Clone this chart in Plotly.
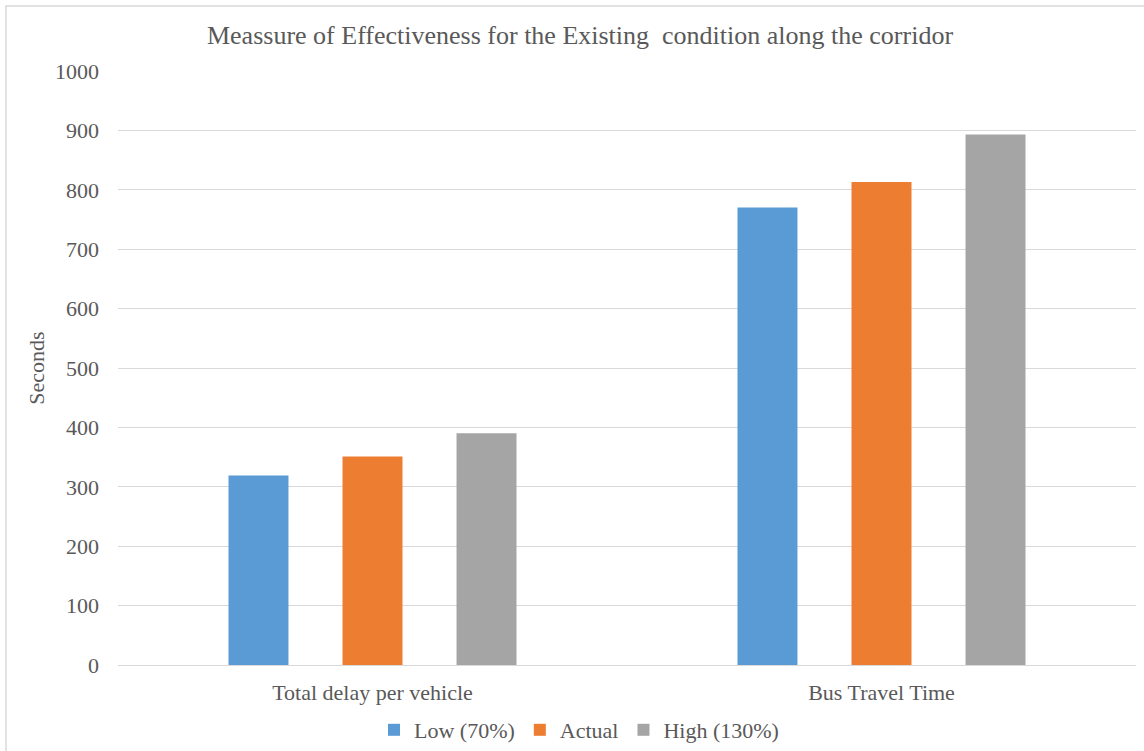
import plotly.graph_objects as go

categories = ["Total delay per vehicle", "Bus Travel Time"]
low_70 = [319, 770]
actual = [351, 813]
high_130 = [390, 893]

series_names = ["Low (70%)", "Actual", "High (130%)"]
series_colors = ["#5B9BD5", "#ED7D31", "#A5A5A5"]

W, H = 1144, 751
L, R, T, B = 118, 8, 71, 86
pw, ph = W - L - R, H - T - B

fig = go.Figure()
for name, vals, col in zip(series_names, [low_70, actual, high_130], series_colors):
    fig.add_trace(go.Bar(x=categories, y=vals, name=name, marker_color=col,
                         marker_line_width=0))

font_family = "Liberation Serif, Times New Roman, serif"
text_col = "#595959"
fig.update_layout(
    width=W, height=H,
    margin=dict(l=L, r=R, t=T, b=B, autoexpand=False),
    paper_bgcolor="white", plot_bgcolor="white",
    barmode="group", bargap=0.328, bargroupgap=0.474,
    font=dict(family=font_family, color=text_col, size=22),
    title=dict(text="Meassure of Effectiveness for the Existing  condition along the corridor",
               x=580 / W, xanchor="center", y=1 - 35 / H, yanchor="middle",
               font=dict(size=26, color=text_col, family=font_family)),
    yaxis=dict(range=[0, 1000], dtick=100, showgrid=True, gridcolor="#D9D9D9",
               gridwidth=1, zeroline=False, showline=False, ticks="",
               tickfont=dict(size=22, color=text_col), ticklabelstandoff=18,
               title=dict(text="Seconds", font=dict(size=22, color=text_col), standoff=4)),
    xaxis=dict(showline=True, linecolor="#D9D9D9", linewidth=1, ticks="",
               tickfont=dict(size=22, color=text_col), ticklabelstandoff=8),
    legend=dict(orientation="h", xref="container", yref="container",
                x=579 / W, xanchor="center", y=1 - 730 / H, yanchor="middle",
                font=dict(size=22, color=text_col), traceorder="normal"),
    showlegend=True,
)

# Outer chart border
fig.add_shape(type="rect", xref="paper", yref="paper",
              x0=(6 - L) / pw, x1=(W + 10 - L) / pw,
              y0=-(H + 10 - (H - B)) / ph, y1=(H - B - 6) / ph,
              line=dict(color="#D9D9D9", width=1.5), fillcolor="rgba(0,0,0,0)",
              layer="below")

fig.write_html("out.html")
